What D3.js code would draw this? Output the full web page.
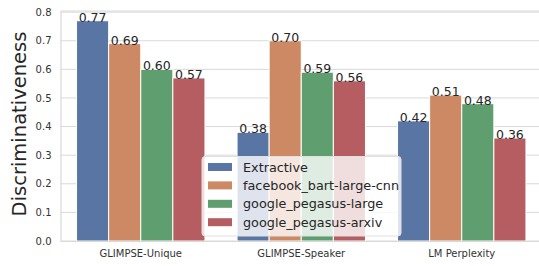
<!DOCTYPE html>
<html><head><meta charset="utf-8">
<script src="https://cdn.jsdelivr.net/npm/d3@7"></script>
<style>body{margin:0;background:#fff}svg{display:block;font-family:"DejaVu Sans",sans-serif}</style>
</head><body><svg id="c" width="539" height="266"></svg>
<script>
const categories = ["GLIMPSE-Unique", "GLIMPSE-Speaker", "LM Perplexity"];
const seriesNames = ["Extractive", "facebook_bart-large-cnn", "google_pegasus-large", "google_pegasus-arxiv"];
const extractive = [0.77, 0.38, 0.42];
const bart = [0.69, 0.70, 0.51];
const pegasusLarge = [0.60, 0.59, 0.48];
const pegasusArxiv = [0.57, 0.56, 0.36];
const yTicks = [0.0, 0.1, 0.2, 0.3, 0.4, 0.5, 0.6, 0.7, 0.8];
const colors = ["#5975a4", "#cc8963", "#5f9e6e", "#b55d60"];
const series = [extractive, bart, pegasusLarge, pegasusArxiv];

const svg = d3.select("#c");
const m = {l: 60.5, r: -3, t: 11, b: 25};
const W = 539, H = 266;
const x = d3.scaleBand().domain(categories).range([m.l, W - m.r]).paddingInner(0.2).paddingOuter(0.1);
const x1 = d3.scaleBand().domain(seriesNames).range([0, x.bandwidth()]);
const y = d3.scaleLinear().domain([0, 0.804]).range([H - m.b, m.t]);

// grid
svg.append("g").selectAll("line").data(yTicks).join("line")
  .attr("x1", m.l).attr("x2", W).attr("y1", d => y(d)).attr("y2", d => y(d))
  .attr("stroke", "#d9d9d9").attr("stroke-width", 1);
// top frame
svg.append("line").attr("x1", m.l).attr("x2", W).attr("y1", m.t).attr("y2", m.t).attr("stroke", "#d9d9d9").attr("stroke-width", 1.2);

// y axis
const yAxis = d3.axisLeft(y).tickValues(yTicks).tickFormat(d3.format(".1f")).tickSize(0).tickPadding(9);
const gy = svg.append("g").attr("transform", `translate(${m.l},0)`).call(yAxis);
gy.select(".domain").attr("stroke", "#d9d9d9").attr("stroke-width", 1.2);
gy.selectAll("text").attr("font-size", 10).attr("fill", "#333").attr("font-family", "DejaVu Sans");

// bars
seriesNames.forEach((s, i) => {
  const g = svg.append("g");
  g.selectAll("rect").data(categories).join("rect")
    .attr("x", c => x(c) + x1(s))
    .attr("y", (c, j) => y(series[i][j]))
    .attr("width", x1.bandwidth())
    .attr("height", (c, j) => y(0) - y(series[i][j]))
    .attr("fill", colors[i]).attr("stroke", "#fff").attr("stroke-width", 1);
  g.selectAll("text").data(categories).join("text")
    .attr("x", c => x(c) + x1(s) + x1.bandwidth() / 2)
    .attr("y", (c, j) => y(series[i][j]) + 1)
    .attr("text-anchor", "middle").attr("font-size", 12.5).attr("fill", "#262626")
    .text((c, j) => d3.format(".2f")(series[i][j]));
});

// x axis
const gx = svg.append("g").attr("transform", `translate(0,${y(0)})`)
  .call(d3.axisBottom(x).tickSize(0).tickPadding(9));
gx.select(".domain").attr("stroke", "#d9d9d9").attr("stroke-width", 1.2);
gx.selectAll("text").attr("font-size", 10).attr("fill", "#333").attr("font-family", "DejaVu Sans");

// y label
svg.append("text").attr("transform", `translate(26,124) rotate(-90)`)
  .attr("text-anchor", "middle").attr("font-size", 19.5).attr("fill", "#262626").text("Discriminativeness");

// legend
const lg = svg.append("g").attr("transform", "translate(202,156.5)");
lg.append("rect").attr("width", 199).attr("height", 79.5).attr("rx", 3)
  .attr("fill", "#fff").attr("fill-opacity", 0.8).attr("stroke", "#e0e0e0").attr("stroke-width", 1);
seriesNames.forEach((s, i) => {
  const yy = 10.5 + i * 18.4;
  lg.append("rect").attr("x", 6).attr("y", yy - 4).attr("width", 24).attr("height", 8).attr("fill", colors[i]);
  lg.append("text").attr("x", 41).attr("y", yy + 4.5).attr("font-size", 12.8).attr("fill", "#262626").text(s);
});
</script></body></html>
